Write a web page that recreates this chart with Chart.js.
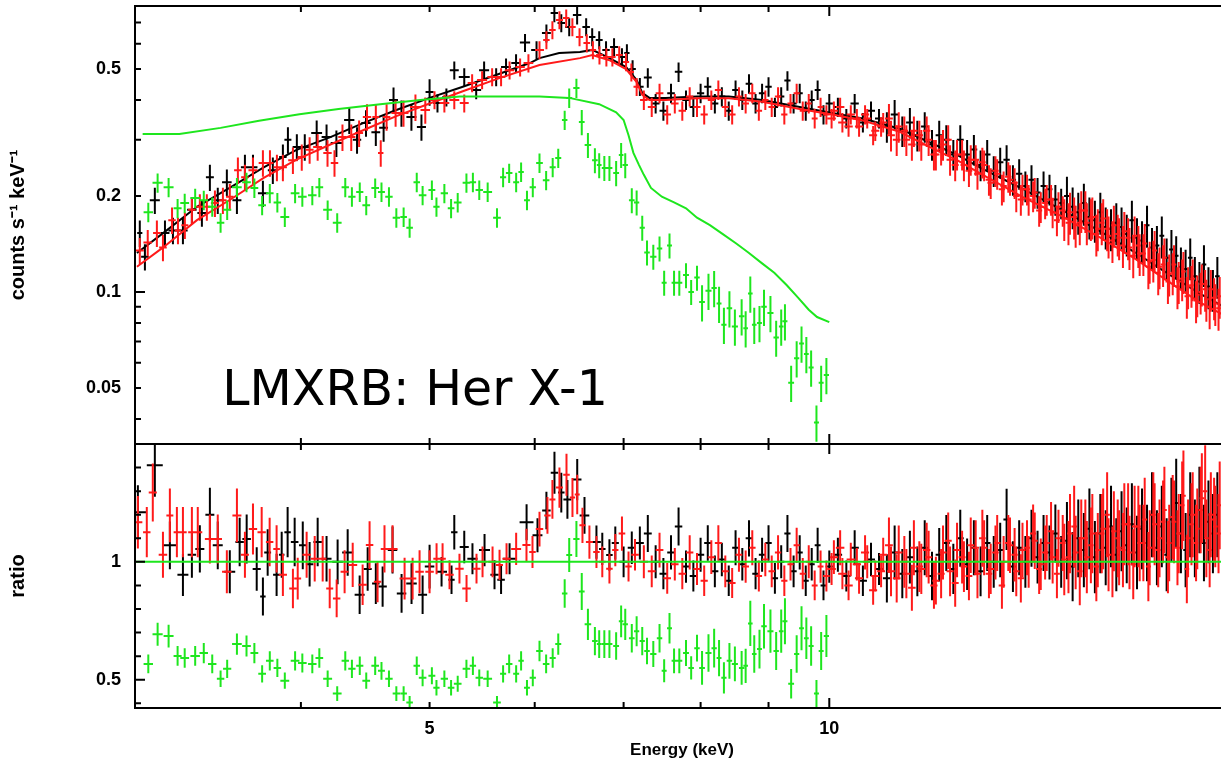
<!DOCTYPE html>
<html>
<head>
<meta charset="utf-8">
<title>LMXRB: Her X-1</title>
<script src="https://cdn.jsdelivr.net/npm/chart.js@4.4.1/dist/chart.umd.min.js"></script>
<style>
html, body { margin: 0; padding: 0; background: #fff; overflow: hidden; }
#wrap { position: relative; width: 1240px; height: 762px; }
</style>
</head>
<body>
<div id="wrap"><canvas id="spec" width="1240" height="762"></canvas></div>
<script>
// axis ticks (keV, counts, ratio)
const energyTicks = [3, 4, 5, 6, 7, 8, 9, 10, 20];
const energyMajor = [10, 20];
const energyLabels = [5, 10];
const countTicks = [0.04, 0.05, 0.06, 0.07, 0.08, 0.09, 0.1, 0.2, 0.3, 0.4, 0.5, 0.6, 0.7];
const countMajor = [0.1];
const countLabels = [0.05, 0.1, 0.2, 0.5];
const ratioTicks = [0.4, 0.5, 0.6, 0.7, 0.8, 0.9, 1.0, 1.1, 1.2, 1.3, 1.4];
const ratioMajor = [0.5, 1.0];
const ratioLabels = [0.5, 1];

// black data, below 7.2 keV
const blackLoE = [3.025,3.052,3.105,3.16,3.204,3.26,3.311,3.369,3.416,3.463,3.518,3.58,3.63,3.681,3.745,3.81,3.877,3.911,3.972,4.027,
  4.111,4.182,4.254,4.35,4.409,4.478,4.555,4.617,4.697,4.762,4.845,4.93,5.0,5.069,5.148,5.219,5.31,5.421,5.496,5.612,
  5.709,5.809,5.9,6.019,6.123,6.208,6.283,6.37,6.458,6.56,6.629,6.71,6.79,6.885,6.98,7.04,7.11];
const blackLoCounts = [0.153,0.129,0.194,0.153,0.156,0.156,0.181,0.177,0.229,0.194,0.221,0.194,0.246,0.246,0.204,0.241,0.265,0.300,0.285,0.285,
  0.315,0.306,0.293,0.346,0.300,0.339,0.317,0.327,0.400,0.364,0.354,0.329,0.424,0.391,0.408,0.496,0.472,0.430,0.496,0.472,
  0.507,0.522,0.605,0.574,0.648,0.749,0.697,0.677,0.738,0.677,0.630,0.617,0.574,0.586,0.545,0.561,0.50];
const blackLoRatioE = [3.015,3.105,3.187,3.26,3.311,3.357,3.416,3.463,3.536,3.597,3.641,3.705,3.745,3.776,3.835,3.869,3.909,3.957,4.013,4.061,
  4.118,4.182,4.263,4.338,4.429,4.491,4.555,4.609,4.689,4.763,4.846,4.94,5.0,5.105,5.194,5.219,5.31,5.386,5.5,5.596,
  5.66,5.744,5.916,6.029,6.123,6.209,6.283,6.35,6.459,6.541,6.678,6.746,6.83,6.9,7.0,7.1];
const blackLoRatio = [1.21,1.41,1.07,0.945,1.03,1.055,1.20,1.07,0.958,1.084,1.097,0.97,0.853,1.04,0.945,1.03,1.126,1.084,1.07,0.99,
  1.084,1.013,1.0,1.04,0.86,0.97,0.908,0.895,1.05,0.866,0.908,0.86,0.98,0.958,0.924,1.126,1.063,1.013,1.05,0.945,
  0.924,1.013,1.168,1.113,1.218,1.378,1.294,1.265,1.349,1.197,1.084,1.055,1.029,1.08,1.0,1.06];

// black data, 7.2 keV and up (same bins in both panels)
const blackHiE = [7.2,7.3,7.4,7.5,7.6,7.7,7.8,7.9,8.0,8.1,8.2,8.3,8.4,8.5,8.6,8.7,8.8,8.9,9.0,9.1,9.2,9.3,9.4,9.5,9.6,9.7,9.8,9.9,10.0,
  10.15,10.3,10.45,10.6,10.75,10.9,11.05,11.2,11.35,11.5,11.65,11.8,11.95,12.1,12.25,12.4,12.55,12.7,12.85,13.0,13.15,13.3,13.45,13.6,13.75,13.9,14.05,
  14.2,14.35,14.5,14.65,14.8,14.95,15.1,15.25,15.4,15.55,15.7,15.85,16.0,16.15,16.3,16.45,16.6,16.75,16.9,17.05,17.2,17.35,17.5,17.65,17.8,17.95,
  18.1,18.25,18.4,18.55,18.7,18.85,19.0,19.15,19.3,19.45,19.6];
const blackHiCounts = [0.44,0.47,0.39,0.37,0.42,0.49,0.40,0.38,0.42,0.44,0.39,0.41,0.37,0.43,0.40,0.45,0.39,0.42,0.44,0.38,0.41,0.46,0.39,0.42,0.37,0.40,0.43,0.36,0.39,
  0.38,0.35,0.39,0.34,0.37,0.35,0.33,0.36,0.32,0.34,0.31,0.33,0.29,0.31,0.30,0.27,0.30,0.27,0.28,0.25,0.27,0.24,0.255,0.26,0.225,0.235,0.215,
  0.225,0.205,0.215,0.21,0.195,0.19,0.20,0.185,0.178,0.19,0.172,0.168,0.178,0.16,0.158,0.165,0.16,0.152,0.168,0.148,0.145,0.162,0.138,0.14,0.15,0.128,
  0.136,0.13,0.12,0.118,0.128,0.112,0.108,0.122,0.104,0.102,0.112];
const blackHiRatio = [1.08,1.12,1.0,0.95,1.04,1.15,0.98,0.94,1.03,1.08,0.96,1.01,0.92,1.06,0.99,1.1,0.95,1.03,1.08,0.93,1.0,1.12,0.96,1.04,0.92,0.99,1.07,0.9,0.98,
  1.03,0.94,1.06,0.92,1.01,0.97,0.93,1.04,0.95,1.02,0.96,1.06,0.94,1.03,1.08,0.97,1.1,0.99,1.06,0.96,1.08,1.0,1.05,1.18,0.98,1.06,1.0,
  1.1,1.02,1.08,1.04,1.12,1.0,1.09,0.98,1.1,1.05,1.14,1.02,1.12,1.06,1.15,1.03,1.13,1.07,1.16,1.04,1.14,1.08,1.2,1.06,1.15,1.03,
  1.18,1.25,1.12,1.05,1.2,1.1,1.22,1.08,1.17,1.12,1.2];

// red data, below 7.2 keV
const redLoE = [3.025,3.067,3.116,3.149,3.199,3.232,3.271,3.311,3.357,3.398,3.446,3.494,3.536,3.586,3.63,3.681,3.745,3.791,3.837,3.877,
  3.945,4.006,4.061,4.118,4.189,4.24,4.299,4.365,4.425,4.486,4.555,4.594,4.641,4.714,4.779,4.879,4.963,5.043,5.13,5.219,
  5.31,5.383,5.477,5.573,5.66,5.744,5.85,5.935,6.05,6.123,6.187,6.263,6.337,6.405,6.485,6.567,6.637,6.713,6.794,6.865,
  6.947,7.03,7.095,7.16];
const redLoCounts = [0.135,0.143,0.153,0.138,0.168,0.156,0.162,0.181,0.185,0.185,0.190,0.194,0.199,0.241,0.229,0.241,0.254,0.254,0.246,0.246,
  0.259,0.265,0.279,0.285,0.273,0.254,0.306,0.306,0.315,0.354,0.354,0.273,0.354,0.364,0.364,0.380,0.372,0.400,0.391,0.400,
  0.391,0.452,0.462,0.472,0.472,0.496,0.507,0.522,0.574,0.617,0.663,0.712,0.722,0.677,0.630,0.603,0.574,0.553,0.545,0.545,
  0.553,0.526,0.489,0.44];
const redLoRatioE = [3.015,3.062,3.094,3.149,3.187,3.226,3.26,3.311,3.345,3.416,3.463,3.518,3.58,3.63,3.681,3.737,3.789,3.835,3.877,3.945,
  3.978,4.04,4.097,4.154,4.205,4.256,4.315,4.376,4.452,4.506,4.569,4.624,4.689,4.788,4.855,4.914,5.0,5.061,5.114,5.176,
  5.266,5.331,5.424,5.481,5.577,5.645,5.714,5.81,5.915,5.977,6.05,6.134,6.187,6.263,6.34,6.406,6.459,6.518,6.597,6.678,
  6.746,6.83,6.9,6.98,7.06,7.14];
const redLoRatio = [1.168,1.126,1.294,1.03,1.197,1.126,1.126,1.126,1.126,1.097,1.097,0.958,1.197,1.03,1.139,1.126,1.084,1.055,0.945,0.887,
  0.929,1.03,1.013,1.013,0.887,0.845,0.958,0.987,0.903,1.071,0.916,1.055,1.055,0.929,0.929,0.958,0.958,1.013,1.013,0.945,
  0.971,0.887,0.971,1.0,1.0,0.987,1.013,1.055,1.071,1.042,1.139,1.197,1.265,1.315,1.37,1.273,1.286,1.155,1.084,1.042,
  1.0,0.971,1.05,1.12,0.98,1.03];

// red data, 7.2 keV and up
const redHiE = [7.25,7.35,7.45,7.55,7.65,7.75,7.85,7.95,8.05,8.15,8.25,8.35,8.45,8.55,8.65,8.75,8.85,8.95,9.05,9.15,9.25,9.35,9.45,9.55,9.65,9.75,9.85,9.95,
  10.08,10.23,10.38,10.53,10.68,10.83,10.98,11.13,11.28,11.43,11.58,11.73,11.88,12.03,12.18,12.33,12.48,12.63,12.78,12.93,13.08,13.23,13.38,13.53,13.68,13.83,13.98,
  14.13,14.28,14.43,14.58,14.73,14.88,15.03,15.18,15.33,15.48,15.63,15.78,15.93,16.08,16.23,16.38,16.53,16.68,16.83,16.98,17.13,17.28,17.43,17.58,17.73,17.88,
  18.03,18.18,18.33,18.48,18.63,18.78,18.93,19.08,19.23,19.38,19.53,19.68];
const redHiCounts = [0.40,0.38,0.42,0.36,0.39,0.37,0.41,0.38,0.36,0.40,0.43,0.38,0.36,0.41,0.39,0.42,0.37,0.40,0.38,0.41,0.36,0.39,0.42,0.37,0.39,0.35,0.38,0.36,
  0.37,0.34,0.36,0.33,0.35,0.32,0.34,0.31,0.33,0.30,0.32,0.29,0.30,0.27,0.29,0.26,0.27,0.25,0.26,0.235,0.25,0.22,0.235,0.215,0.225,0.20,0.21,
  0.195,0.205,0.185,0.195,0.178,0.185,0.17,0.178,0.162,0.18,0.165,0.172,0.158,0.17,0.15,0.162,0.148,0.155,0.138,0.15,0.132,0.142,0.125,0.135,0.12,0.128,
  0.114,0.122,0.108,0.116,0.104,0.11,0.098,0.106,0.095,0.102,0.092,0.097];
const redHiRatio = [1.0,0.96,1.05,0.93,0.99,0.95,1.04,0.97,0.92,1.02,1.08,0.96,0.91,1.03,0.98,1.06,0.94,1.01,0.96,1.04,0.92,0.99,1.07,0.95,1.0,0.9,0.98,0.94,
  1.02,0.95,1.01,0.93,1.0,0.94,1.03,0.96,1.04,0.95,1.06,0.97,1.02,0.92,1.04,0.96,1.05,0.98,1.07,0.95,1.06,0.97,1.08,1.0,1.07,0.96,1.05,
  1.0,1.09,0.99,1.08,1.02,1.1,1.01,1.12,1.04,1.1,1.02,1.12,1.05,1.14,1.03,1.13,1.06,1.16,1.04,1.15,1.08,1.18,1.06,1.16,1.1,1.22,
  1.08,1.17,1.12,1.28,1.1,1.2,1.14,1.27,1.1,1.2,1.15,1.24];

// red data, the in-between bins above 10 keV
const redFineE = [10.04,10.19,10.34,10.49,10.64,10.79,10.94,11.09,11.24,11.39,11.54,11.69,11.84,11.99,12.14,12.29,12.44,12.59,12.74,12.89,
  13.04,13.19,13.34,13.49,13.64,13.79,13.94,14.09,14.24,14.39,14.54,14.69,14.84,14.99,15.14,15.29,15.44,15.59,15.74,15.89,
  16.04,16.19,16.34,16.49,16.64,16.79,16.94,17.09,17.24,17.39,17.54,17.69,17.84,17.99,18.14,18.29,18.44,18.59,18.74,18.89,
  19.04,19.19,19.34,19.49,19.64];
const redFineCounts = [0.35,0.38,0.33,0.35,0.36,0.31,0.33,0.35,0.30,0.32,0.29,0.31,0.32,0.27,0.28,0.30,0.25,0.27,0.24,0.26,
  0.255,0.225,0.24,0.21,0.23,0.22,0.195,0.21,0.20,0.18,0.19,0.195,0.168,0.18,0.165,0.172,0.165,0.18,0.17,0.152,
  0.165,0.158,0.145,0.152,0.14,0.148,0.13,0.14,0.132,0.12,0.126,0.115,0.122,0.108,0.115,0.104,0.11,0.097,0.105,0.094,
  0.10,0.102,0.09,0.096,0.089];
const redFineRatio = [0.97,1.06,0.9,0.99,1.04,0.88,0.96,1.07,0.93,1.0,0.89,0.98,1.05,0.9,0.95,1.09,0.91,1.02,0.94,1.06,
  1.1,0.95,1.04,0.9,1.08,1.03,0.93,1.06,1.12,0.97,1.04,1.13,0.95,1.08,1.02,1.15,0.96,1.1,1.07,0.98,
  1.12,1.2,1.0,1.1,1.05,1.16,0.99,1.15,1.08,0.98,1.2,1.05,1.17,1.02,1.19,1.06,1.24,0.97,1.16,1.08,
  1.22,1.3,1.05,1.18,1.12];

// green data (same bins in both panels), stops at 10 keV
const greenE = [3.07,3.12,3.18,3.23,3.27,3.33,3.38,3.43,3.48,3.52,3.58,3.64,3.69,3.74,3.79,3.84,3.89,3.96,4.01,4.08,
  4.13,4.19,4.26,4.32,4.37,4.43,4.48,4.55,4.60,4.66,4.72,4.78,4.83,4.89,4.94,5.02,5.06,5.13,5.19,5.25,
  5.33,5.39,5.45,5.53,5.62,5.68,5.74,5.81,5.86,5.92,5.98,6.05,6.12,6.19,6.25,6.32,6.37,6.45,6.51,6.58,
  6.66,6.71,6.77,6.83,6.91,6.97,7.02,7.10,7.16,7.23,7.29,7.37,7.45,7.51,7.58,7.64,7.71,7.80,7.87,7.95,
  8.02,8.11,8.19,8.26,8.33,8.41,8.49,8.59,8.65,8.72,8.78,8.86,8.93,9.03,9.12,9.20,9.26,9.36,9.45,9.53,
  9.61,9.69,9.78,9.86,9.95];
const greenCounts = [0.178,0.220,0.213,0.183,0.190,0.197,0.194,0.185,0.165,0.181,0.213,0.221,0.212,0.187,0.204,0.191,0.172,0.204,0.199,0.201,
  0.213,0.181,0.165,0.213,0.199,0.206,0.187,0.212,0.206,0.199,0.171,0.172,0.159,0.221,0.201,0.209,0.185,0.204,0.183,0.191,
  0.220,0.221,0.209,0.206,0.171,0.229,0.236,0.221,0.238,0.194,0.213,0.254,0.224,0.246,0.263,0.346,0.406,0.436,0.341,0.289,
  0.259,0.250,0.245,0.245,0.236,0.269,0.250,0.194,0.191,0.159,0.133,0.129,0.137,0.107,0.140,0.107,0.107,0.113,0.100,0.111,
  0.093,0.101,0.103,0.092,0.079,0.089,0.078,0.084,0.077,0.099,0.079,0.080,0.090,0.086,0.072,0.078,0.081,0.052,0.062,0.069,
  0.064,0.058,0.039,0.052,0.055];
const greenRatio = [0.567,0.693,0.685,0.601,0.592,0.601,0.613,0.567,0.504,0.546,0.651,0.643,0.613,0.525,0.580,0.550,0.496,0.580,0.571,0.567,
  0.592,0.504,0.441,0.580,0.546,0.559,0.496,0.559,0.538,0.504,0.441,0.441,0.403,0.559,0.508,0.517,0.466,0.504,0.466,0.483,
  0.546,0.559,0.508,0.504,0.403,0.525,0.567,0.525,0.580,0.466,0.508,0.622,0.567,0.592,0.651,0.866,1.029,1.097,0.874,0.735,
  0.664,0.651,0.651,0.651,0.643,0.748,0.735,0.676,0.706,0.664,0.622,0.609,0.676,0.538,0.718,0.580,0.580,0.613,0.550,0.634,
  0.550,0.613,0.634,0.592,0.508,0.580,0.567,0.550,0.559,0.739,0.609,0.630,0.727,0.706,0.622,0.706,0.748,0.483,0.609,0.718,
  0.676,0.643,0.441,0.622,0.685];

// folded models
const blackModelE = [3.01,3.15,3.34,3.54,3.75,3.97,4.21,4.46,4.72,5.0,5.29,5.61,5.95,6.05,6.26,6.49,6.63,6.83,7.03,7.16,
  7.23,7.32,7.53,7.95,8.4,8.9,9.5,10.05,10.6,11.3,12.0,12.5,13.0,14.0,15.0,16.0,17.0,18.0,19.0,20.0];
const blackModel = [0.1325,0.153,0.185,0.213,0.246,0.279,0.306,0.339,0.372,0.406,0.439,0.479,0.522,0.541,0.561,0.565,0.574,0.541,0.507,0.462,
  0.421,0.406,0.406,0.41,0.41,0.40,0.38,0.364,0.35,0.325,0.29,0.268,0.245,0.21,0.18,0.155,0.133,0.114,0.099,0.088];
const redModelE = [3.01,3.15,3.34,3.54,3.75,3.97,4.21,4.46,4.72,5.0,5.29,5.65,6.05,6.49,6.63,6.83,7.03,7.16,7.23,7.32,
  7.53,7.95,8.4,8.9,9.5,10.05,10.6,11.3,12.0,12.5,13.0,14.0,15.0,16.0,17.0,18.0,19.0,20.0];
const redModel = [0.12,0.138,0.168,0.195,0.228,0.26,0.29,0.322,0.356,0.39,0.425,0.469,0.515,0.541,0.553,0.533,0.50,0.455,0.415,0.40,
  0.40,0.405,0.405,0.395,0.375,0.36,0.345,0.318,0.28,0.258,0.235,0.198,0.172,0.148,0.127,0.108,0.093,0.083];
const greenModelE = [3.04,3.24,3.48,3.72,3.99,4.27,4.59,4.92,5.27,5.65,6.05,6.37,6.71,6.91,7.0,7.06,7.12,7.19,7.25,7.34,
  7.48,7.64,7.80,7.95,8.13,8.33,8.51,8.69,8.90,9.09,9.29,9.48,9.65,9.79,10.0];
const greenModel = [0.313,0.313,0.327,0.344,0.361,0.375,0.388,0.400,0.410,0.410,0.410,0.406,0.388,0.366,0.346,0.310,0.273,0.250,0.233,0.212,
  0.199,0.191,0.183,0.171,0.162,0.151,0.142,0.133,0.123,0.115,0.105,0.0957,0.088,0.0835,0.0805];
const unityE = [3, 20];
const unityRatio = [1, 1];

// relative 1-sigma errors, by energy band (upper edge in keV)
const xisErrEdges = [5, 7.2, 11, 15, 21];
const xisErr = [0.095, 0.065, 0.07, 0.11, 0.15];
const greenErrEdges = [6.5, 8, 10.5];
const greenErr = [0.07, 0.09, 0.13];

const BLACK = '#000000';
const RED = '#ff1a1a';
const GREEN = '#1ee61e';
const TICK_FONT = { family: 'Liberation Sans', size: 18, weight: 'bold' };

function pts(xs, ys) {
    return xs.map((x, i) => ({ x: x, y: ys[i] }));
}

// half of the bin width, from the neighbouring bins
function binHalfWidths(xs) {
    return xs.map((e, i) => {
        const lo = i > 0 ? xs[i - 1] : e - (xs[1] - xs[0]);
        const hi = i < xs.length - 1 ? xs[i + 1] : e + (e - xs[i - 1]);
        return Math.max((hi - lo) / 4, e * 0.004);
    });
}

function relErr(edges, errs, e) {
    for (let i = 0; i < edges.length; i++) {
        if (e <= edges[i]) return errs[i];
    }
    return errs[errs.length - 1];
}

function dataSet(label, color, xs, ys, axis, edges, errs, order) {
    return {
        label: label, data: pts(xs, ys), yAxisID: axis, borderColor: color,
        showLine: false, pointRadius: 0, order: order,
        crosses: { half: binHalfWidths(xs), edges: edges, errs: errs }
    };
}

function modelSet(label, color, xs, ys, axis, order) {
    return {
        label: label, data: pts(xs, ys), yAxisID: axis, borderColor: color,
        borderWidth: 2, pointRadius: 0, showLine: true, fill: false, tension: 0, order: order
    };
}

// no extra room for the end labels, the frame sits where the layout puts it
function tightFit(w, h) {
    return s => {
        if (w) s.width = w;
        if (h) s.height = h;
        s.paddingTop = 0;
        s.paddingBottom = 0;
        s.paddingLeft = 0;
        s.paddingRight = 0;
    };
}

// draws each data set as error crosses, right after that set's turn
const crossPlugin = {
    id: 'crosses',
    afterDatasetDraw(chart, args) {
        const ds = chart.data.datasets[args.index];
        if (!ds.crosses) return;
        const ctx = chart.ctx;
        const x = chart.scales.x;
        const yAx = chart.scales[ds.yAxisID];
        ctx.save();
        ctx.beginPath();
        ctx.rect(x.left, yAx.top, x.right - x.left, yAx.bottom - yAx.top);
        ctx.clip();
        ctx.strokeStyle = ds.borderColor;
        ctx.lineWidth = 2;
        ctx.beginPath();
        ds.data.forEach((p, i) => {
            const rel = relErr(ds.crosses.edges, ds.crosses.errs, p.x);
            const hw = ds.crosses.half[i];
            const px = x.getPixelForValue(p.x);
            const py = yAx.getPixelForValue(p.y);
            ctx.moveTo(px, yAx.getPixelForValue(p.y * (1 - rel)));
            ctx.lineTo(px, yAx.getPixelForValue(p.y * (1 + rel)));
            ctx.moveTo(x.getPixelForValue(p.x - hw), py);
            ctx.lineTo(x.getPixelForValue(p.x + hw), py);
        });
        ctx.stroke();
        ctx.restore();
    }
};

// panel frames, inward ticks and the source label
const framePlugin = {
    id: 'frame',
    afterDraw(chart) {
        const ctx = chart.ctx;
        const x = chart.scales.x;
        const top = chart.scales.y;
        const bot = chart.scales.y2;
        ctx.save();
        ctx.strokeStyle = '#000';
        ctx.lineWidth = 2;
        ctx.beginPath();
        [top, bot].forEach(ax => ctx.rect(x.left, ax.top, x.right - x.left, ax.bottom - ax.top));
        energyTicks.forEach(e => {
            const px = x.getPixelForValue(e);
            const len = energyMajor.includes(e) ? 10 : 6;
            [[top.top, 1], [top.bottom, -1], [bot.top, 1], [bot.bottom, -1]].forEach(([py, dir]) => {
                ctx.moveTo(px, py);
                ctx.lineTo(px, py + dir * len);
            });
        });
        countTicks.forEach(v => {
            const py = top.getPixelForValue(v);
            ctx.moveTo(x.left, py);
            ctx.lineTo(x.left + (countMajor.includes(v) ? 10 : 6), py);
        });
        ratioTicks.forEach(v => {
            const py = bot.getPixelForValue(v);
            ctx.moveTo(x.left, py);
            ctx.lineTo(x.left + (ratioMajor.includes(v) ? 10 : 6), py);
        });
        ctx.stroke();

        ctx.fillStyle = '#000';
        ctx.font = '49px "DejaVu Sans"';
        ctx.textAlign = 'left';
        ctx.textBaseline = 'alphabetic';
        ctx.fillText('LMXRB: Her X-1', x.getPixelForValue(3.49), top.getPixelForValue(0.0443));
        ctx.restore();
    }
};

const datasets = [
    modelSet('green model', GREEN, greenModelE, greenModel, 'y', 0),
    dataSet('green', GREEN, greenE, greenCounts, 'y', greenErrEdges, greenErr, 1),
    modelSet('red model', RED, redModelE, redModel, 'y', 2),
    dataSet('red', RED, redLoE.concat(redHiE), redLoCounts.concat(redHiCounts), 'y', xisErrEdges, xisErr, 3),
    dataSet('red fine', RED, redFineE, redFineCounts, 'y', xisErrEdges, xisErr, 3),
    modelSet('black model', BLACK, blackModelE, blackModel, 'y', 4),
    dataSet('black', BLACK, blackLoE.concat(blackHiE), blackLoCounts.concat(blackHiCounts), 'y', xisErrEdges, xisErr, 5),

    modelSet('unity', GREEN, unityE, unityRatio, 'y2', 0),
    dataSet('green ratio', GREEN, greenE, greenRatio, 'y2', greenErrEdges, greenErr, 1),
    dataSet('red ratio', RED, redLoRatioE.concat(redHiE), redLoRatio.concat(redHiRatio), 'y2', xisErrEdges, xisErr, 3),
    dataSet('red fine ratio', RED, redFineE, redFineRatio, 'y2', xisErrEdges, xisErr, 3),
    dataSet('black ratio', BLACK, blackLoRatioE.concat(blackHiE), blackLoRatio.concat(blackHiRatio), 'y2', xisErrEdges, xisErr, 5)
];

const plainGrid = { display: false, drawTicks: false };

new Chart(document.getElementById('spec'), {
    type: 'scatter',
    data: { datasets: datasets },
    options: {
        responsive: false,
        animation: false,
        layout: { padding: { top: 6, right: 11, left: 0, bottom: 0 } },
        plugins: { legend: { display: false }, tooltip: { enabled: false } },
        scales: {
            x: {
                type: 'logarithmic', min: 3, max: 20, position: 'bottom',
                grid: plainGrid, border: { display: false },
                afterBuildTicks: s => { s.ticks = energyLabels.map(v => ({ value: v })); },
                afterFit: tightFit(0, 54),
                ticks: { padding: 10, color: '#000', font: TICK_FONT, maxRotation: 0, autoSkip: false, callback: v => String(v) },
                title: { display: true, text: 'Energy (keV)', color: '#000',
                         font: { family: 'Liberation Sans', size: 17, weight: 'bold' }, padding: { top: 0, bottom: 1 } }
            },
            y2: {
                type: 'linear', min: 0.38, max: 1.5, position: 'left', stack: 'spec', stackWeight: 264,
                grid: plainGrid, border: { display: false },
                afterBuildTicks: s => { s.ticks = ratioLabels.map(v => ({ value: v })); },
                afterFit: tightFit(135, 0),
                ticks: { padding: 14, color: '#000', font: TICK_FONT, autoSkip: false, callback: v => String(v) },
                title: { display: true, text: 'ratio', color: '#000',
                         font: { family: 'Liberation Sans', size: 20, weight: 'bold' }, padding: { top: 6, bottom: 0 } }
            },
            y: {
                type: 'logarithmic', min: 0.0334, max: 0.788, position: 'left', stack: 'spec', stackWeight: 438,
                grid: plainGrid, border: { display: false },
                afterBuildTicks: s => { s.ticks = countLabels.map(v => ({ value: v })); },
                afterFit: tightFit(135, 0),
                ticks: { padding: 14, color: '#000', font: TICK_FONT, autoSkip: false, callback: v => String(v) },
                title: { display: true, text: 'counts s⁻¹ keV⁻¹', color: '#000',
                         font: { family: 'Liberation Sans', size: 20, weight: 'bold' }, padding: { top: 6, bottom: 0 } }
            }
        }
    },
    plugins: [crossPlugin, framePlugin]
});
</script>
</body>
</html>
